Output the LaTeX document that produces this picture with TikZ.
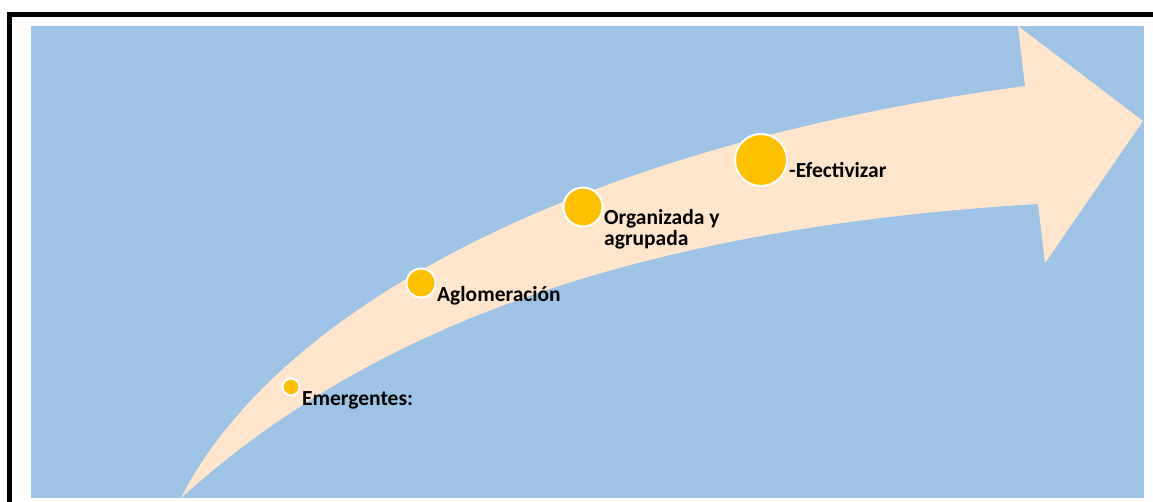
\documentclass[tikz,border=0pt]{standalone}
\usepackage{fontspec}
\setmainfont{Carlito}
\definecolor{bgblue}{HTML}{9DC3E6}
\definecolor{arrowfill}{HTML}{FFE6CC}
\definecolor{dotyellow}{HTML}{FFC000}
\begin{document}
\begin{tikzpicture}[x=1pt,y=-1pt,
  dot/.style={circle,fill=dotyellow,draw=white,line width=2pt,inner sep=0pt},
  lbl/.style={inner sep=0pt,anchor=base west,font=\fontsize{21.5}{20.5}\selectfont\bfseries,text=black,align=left}]
\useasboundingbox (0,0) rectangle (1153,502);
% frame
\draw[line width=4.5pt] (9.5,502) -- (9.5,14.5) -- (1153,14.5);
% background
\fill[bgblue] (31,26) rectangle (1144,498);
\begin{scope}
\clip (31,26) rectangle (1144,498);
\fill[arrowfill] (181,498) .. controls (270,322) and (550,150) .. (1025,86)
  -- (1018,26) -- (1143,121) -- (1045,263) -- (1038,204)
  .. controls (600,230) and (350,345) .. (181,498) -- cycle;
\end{scope}
% dots
\node[dot,minimum size=17pt] (c1) at (291,387) {};
\node[dot,minimum size=29pt] (c2) at (421,283) {};
\node[dot,minimum size=39pt] (c3) at (583,207) {};
\node[dot,minimum size=52pt] (c4) at (761,160) {};
% labels
\node[lbl] (t1) at (302,405) {Emergentes:};
\node[lbl] (t2) at (437,301.5) {Aglomeración};
\node[lbl] (t3) at (604,245.5) {Organizada y\\agrupada};
\node[lbl] (t4) at (789,178) {-Efectivizar};
\end{tikzpicture}
\end{document}
